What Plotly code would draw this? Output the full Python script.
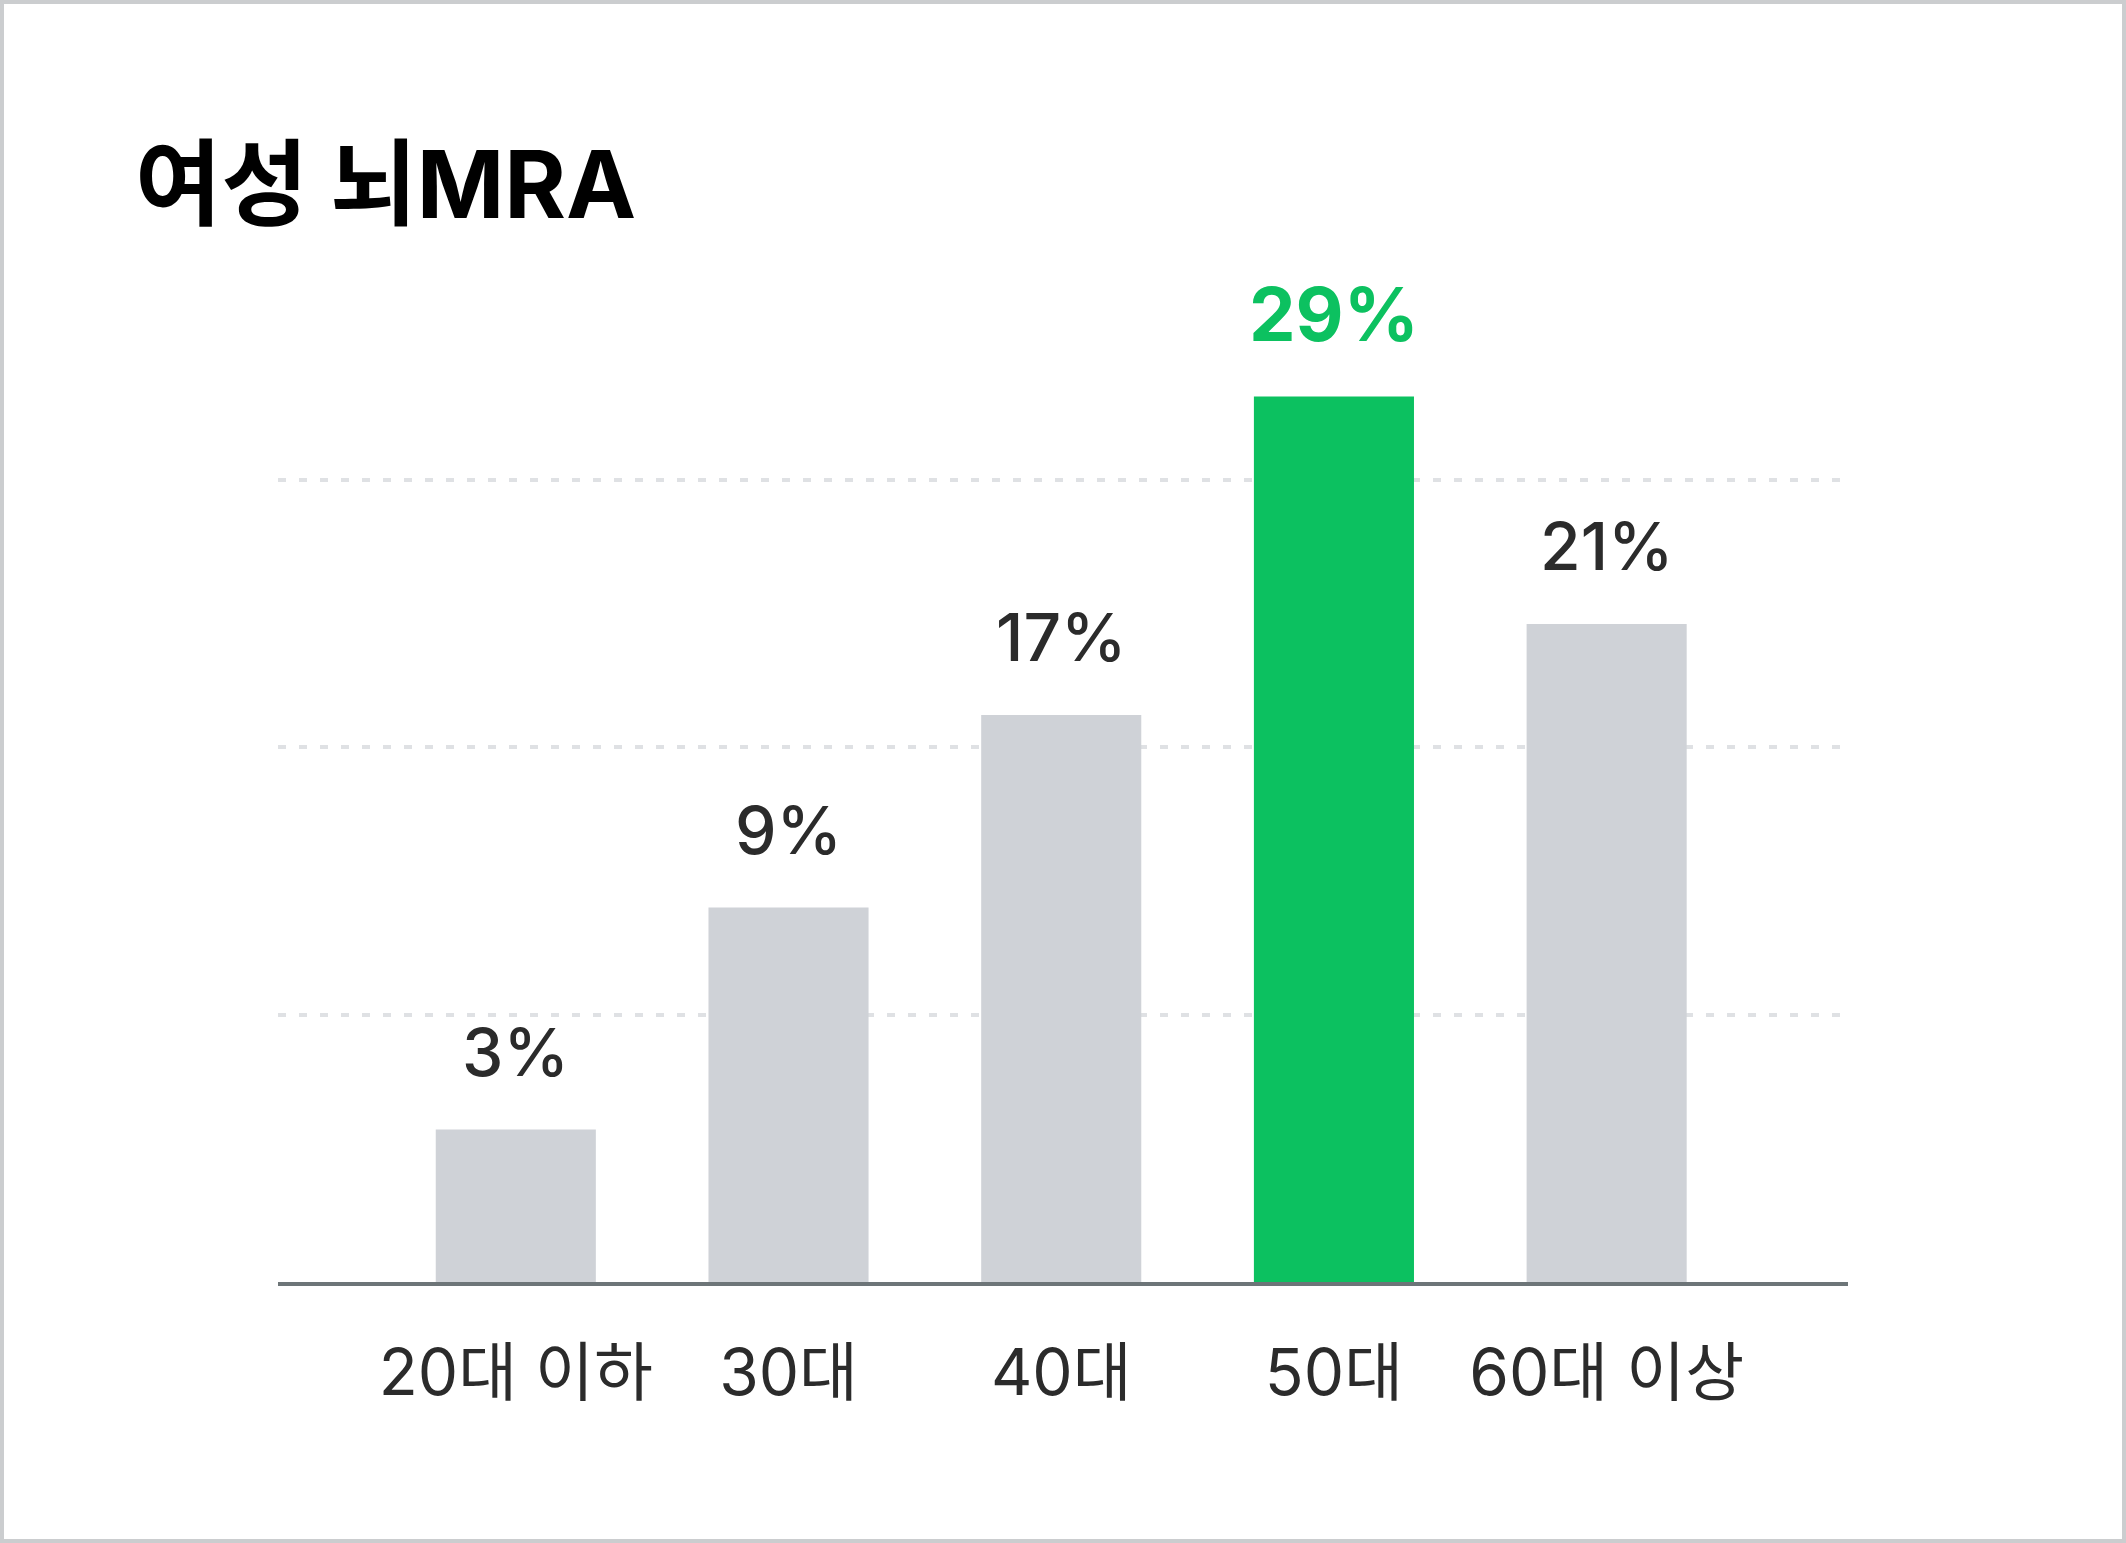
import plotly.graph_objects as go

# data
age_groups = ["20대 이하", "30대", "40대", "50대", "60대 이상"]
share_pct = [3, 9, 17, 29, 21]
# drawn bar heights (grid lines sit at 10 / 20 / 30 on this scale)
bar_heights = [5.7, 14.0, 21.2, 33.1, 24.6]
highlight = "50대"

GRAY = "#CFD2D7"
GREEN = "#0CC160"
TEXT = "#2B2B2B"
FONT = "Inter, 'Noto Sans CJK KR', sans-serif"

W, H = 2126, 1543
L, R, T, B = 278, 278, 200, 261
plot_w = W - L - R
plot_h = H - T - B
px_per_unit = 26.75

colors = [GREEN if a == highlight else GRAY for a in age_groups]

fig = go.Figure()
fig.add_trace(
    go.Bar(
        x=age_groups,
        y=bar_heights,
        marker=dict(color=colors, line=dict(width=0)),
        width=0.587,
        hoverinfo="skip",
    )
)

# value labels above each bar
for age, h, p in zip(age_groups, bar_heights, share_pct):
    hot = age == highlight
    fig.add_annotation(
        x=age,
        y=h,
        text=f"{p}%",
        showarrow=False,
        yanchor="bottom",
        yshift=36,
        font=dict(
            family=FONT,
            size=74 if hot else 66,
            weight=700 if hot else 500,
            color=GREEN if hot else TEXT,
        ),
    )

# outer border of the card
fig.add_shape(
    type="rect",
    xref="paper",
    yref="paper",
    x0=(2 - L) / plot_w,
    x1=(W - 2 - L) / plot_w,
    y0=(2 - B) / plot_h,
    y1=(H - 2 - B) / plot_h,
    line=dict(color="#CBCDCF", width=4),
    layer="below",
)

fig.update_layout(
    width=W,
    height=H,
    margin=dict(l=L, r=R, t=T, b=B),
    paper_bgcolor="white",
    plot_bgcolor="white",
    showlegend=False,
    title=dict(
        text="<b>여성 뇌MRA</b>",
        xref="container",
        yref="container",
        x=135 / W,
        xanchor="left",
        y=1 - 152 / H,
        yanchor="top",
        font=dict(family=FONT, size=94, color="black"),
    ),
    xaxis=dict(
        range=[-0.872, 4.885],
        showgrid=False,
        showline=True,
        linecolor="#6D7578",
        linewidth=4,
        ticks="",
        ticklabelstandoff=32,
        tickfont=dict(family=FONT, size=64, color=TEXT),
        fixedrange=True,
    ),
    yaxis=dict(
        range=[0, plot_h / px_per_unit],
        tickvals=[10, 20, 30],
        showticklabels=False,
        showgrid=True,
        gridcolor="#DFE1E4",
        gridwidth=4,
        griddash="8px,13px",
        zeroline=False,
        showline=False,
        fixedrange=True,
    ),
)

fig.write_html(
    "out.html",
    config={"displayModeBar": False},
    post_script="document.body.style.margin='0';",
)
